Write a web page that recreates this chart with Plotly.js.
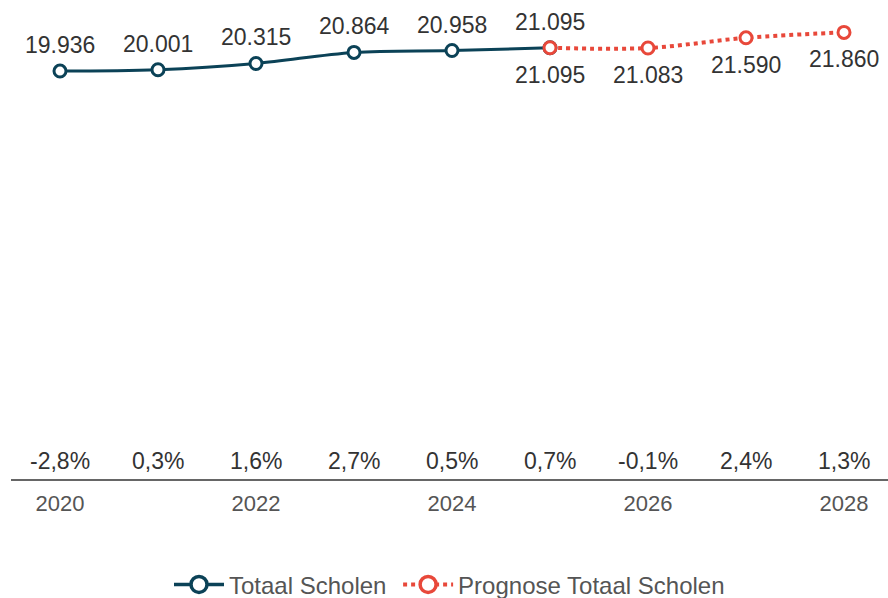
<!DOCTYPE html>
<html>
<head>
<meta charset="utf-8">
<script src="https://cdn.plot.ly/plotly-3.0.1.min.js"></script>
<style>html,body{margin:0;padding:0;background:#fff;}#chart{width:888px;height:598px;}</style>
</head>
<body>
<div id="chart"></div>
<script>
const histYears = [2020, 2021, 2022, 2023, 2024, 2025];
const histValues = [19936, 20001, 20315, 20864, 20958, 21095];
const forecastYears = [2025, 2026, 2027, 2028];
const forecastValues = [21095, 21083, 21590, 21860];
const pctYears = [2020, 2021, 2022, 2023, 2024, 2025, 2026, 2027, 2028];
const pctLabels = ["-2,8%", "0,3%", "1,6%", "2,7%", "0,5%", "0,7%", "-0,1%", "2,4%", "1,3%"];
const tickYears = [2020, 2022, 2024, 2026, 2028];

const teal = "#0b4257";
const red = "#e8483a";
const fontFam = "Arial, 'Liberation Sans', sans-serif";
const fmt = v => v.toLocaleString("de-DE");

const traces = [
  {
    x: histYears, y: histValues, name: "Totaal Scholen", type: "scatter", mode: "lines+markers",
    line: {color: teal, width: 3, shape: "spline"},
    marker: {symbol: "circle", size: 12, color: "#fff", line: {color: teal, width: 3}},
    showlegend: false, hoverinfo: "skip"
  },
  {
    x: forecastYears, y: forecastValues, name: "Prognose Totaal Scholen", type: "scatter", mode: "lines+markers",
    line: {color: red, width: 4, dash: "dot", shape: "spline"},
    marker: {symbol: "circle", size: 12, color: "#fff", line: {color: red, width: 3}},
    showlegend: false, hoverinfo: "skip"
  },
  {
    x: [null], y: [null], name: "Totaal Scholen\u00a0", type: "scatter", mode: "lines+markers",
    line: {color: teal, width: 3.5},
    marker: {symbol: "circle", size: 16, color: "#fff", line: {color: teal, width: 3.5}},
    hoverinfo: "skip"
  },
  {
    x: [null], y: [null], name: "Prognose Totaal Scholen", type: "scatter", mode: "lines+markers",
    line: {color: red, width: 4, dash: "dot"},
    marker: {symbol: "circle", size: 16, color: "#fff", line: {color: red, width: 3.5}},
    hoverinfo: "skip"
  }
];

const annotations = [];
histYears.forEach((yr, i) => annotations.push({
  x: yr, y: histValues[i], xref: "x", yref: "y", text: fmt(histValues[i]), showarrow: false,
  yshift: 26, font: {family: fontFam, size: 23, color: "#333"}
}));
forecastYears.forEach((yr, i) => annotations.push({
  x: yr, y: forecastValues[i], xref: "x", yref: "y", text: fmt(forecastValues[i]), showarrow: false,
  yshift: -27, font: {family: fontFam, size: 23, color: "#333"}
}));
pctYears.forEach((yr, i) => annotations.push({
  x: yr, y: 0.0376, xref: "x", yref: "paper", text: pctLabels[i], showarrow: false,
  yanchor: "middle", font: {family: fontFam, size: 23, color: "#333"}
}));

const layout = {
  width: 888, height: 598,
  margin: {l: 11, r: 0, t: 0, b: 119, autoexpand: false},
  paper_bgcolor: "#fff", plot_bgcolor: "#fff",
  showlegend: true,
  legend: {orientation: "h", x: 0.5, xanchor: "center", y: -0.221, yanchor: "middle",
    itemwidth: 50, tracegroupgap: 0,
    font: {family: fontFam, size: 24, color: "#555"}},
  xaxis: {
    range: [2019.5, 2028.449], tickvals: tickYears, ticktext: tickYears.map(String),
    showgrid: false, zeroline: false, showline: true, linecolor: "#666", linewidth: 2,
    ticks: "", ticklabelstandoff: 4, automargin: false,
    tickfont: {family: fontFam, size: 22, color: "#555"}, fixedrange: true
  },
  yaxis: {range: [-348, 23470], visible: false, showgrid: false, zeroline: false, fixedrange: true},
  annotations: annotations
};

Plotly.newPlot("chart", traces, layout, {displayModeBar: false, staticPlot: true});
</script>
</body>
</html>
